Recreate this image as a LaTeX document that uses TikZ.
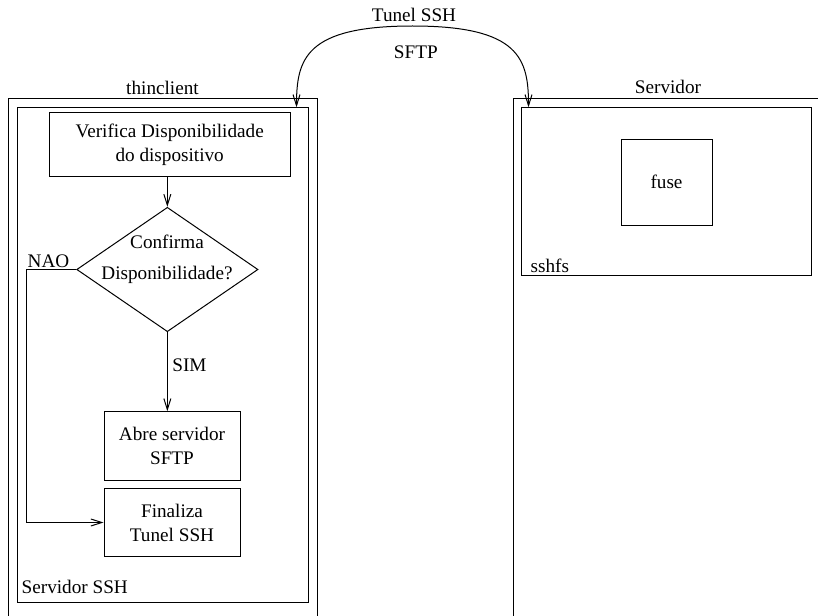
\documentclass[tikz,border=0pt]{standalone}
\usepackage{fontspec}
\setmainfont{Liberation Serif}
\usetikzlibrary{shapes.geometric,arrows.meta,positioning}

\begin{document}
\begin{tikzpicture}
[
    x=1pt, y=-1pt,
    line width=1pt,
    >={Straight Barb[length=11pt,width=7pt]},
    every node/.style={font=\fontsize{19.2}{24}\selectfont,align=center},
    caixa/.style={draw,inner sep=0pt},
    decisao/.style={draw,diamond,inner sep=0pt,minimum width=181.3pt,minimum height=124.4pt},
    titulo/.style={label distance=3.5pt,inner sep=0pt,text depth=0pt}
  ]
  \useasboundingbox (0,0) rectangle (818,615);
  \clip (0,0) rectangle (818,615);

  % maquinas
  \node[caixa,minimum width=309pt,minimum height=541pt,
        label={[titulo]above:thinclient}] (thinclient) at (162.5,369.5) {};
  \node[caixa,minimum width=310pt,minimum height=542pt,
        label={[titulo]above:Servidor}] (servidor) at (668,369.2) {};

  % processos
  \node[caixa,minimum width=290.7pt,minimum height=494.3pt] (servssh) at (162.65,354.85) {};
  \node[anchor=base west,inner sep=0pt] (lblssh) at ([shift={(4.4,-8.7)}]servssh.south west) {Servidor SSH};
  \node[caixa,minimum width=289.3pt,minimum height=167.3pt] (sshfs) at (666.35,191.35) {};
  \node[anchor=base west,inner sep=0pt] (lblsshfs) at ([shift={(9,-3.3)}]sshfs.south west) {sshfs};
  \node[caixa,minimum width=91pt,minimum height=86pt] (fuse) at (666.5,182) {fuse};

  % fluxo do thinclient
  \node[caixa,minimum width=240.7pt,minimum height=63.3pt] (verifica) at (169.65,144.4)
    {Verifica Disponibilidade\\do dispositivo};
  \node[decisao] (confirma) at (167.35,269.5) {};
  \node (confirmatxt) at (167,259.5) {Confirma\\[7.5pt]Disponibilidade?};
  \node[caixa,minimum width=136pt,minimum height=68.3pt] (abre) at (172,445.85)
    {Abre servidor\\SFTP};
  \node[caixa,minimum width=136pt,minimum height=68.4pt] (finaliza) at (172,522.5)
    {Finaliza\\Tunel SSH};

  \draw[->] (verifica.south -| confirma.north) -- (confirma.north);
  \draw[->] (confirma.south) -- node[right,pos=0.42,inner sep=4.5pt]{SIM} (confirma.south |- abre.north);
  \draw[->] (confirma.west) -- node[pos=1,above right,inner sep=1pt]{NAO} ++(-50,0) |- (finaliza.west);

  % tunel
  \coordinate (topo) at (412.5,26);
  \draw[<->] ([xshift=-12pt]servssh.north east) .. controls +(0,-48) and +(-107.5,0) .. (topo)
    .. controls +(107.5,0) and +(0,-48) .. ([xshift=7.3pt]sshfs.north west);
  \node[anchor=base] (tunel) at (414,21.7) {Tunel SSH};
  \node[anchor=base] (sftp) at (415.8,58.3) {SFTP};
\end{tikzpicture}
\end{document}
